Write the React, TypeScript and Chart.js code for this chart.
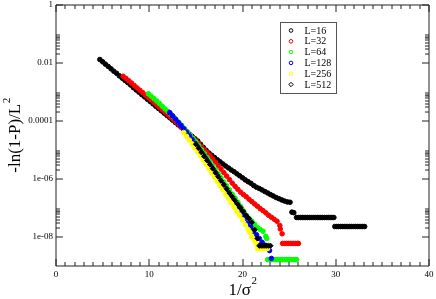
import React, { useEffect, useRef } from 'react';
import { Chart, registerables } from 'chart.js';

Chart.register(...registerables);

// ---- data (x = 1/sigma^2, y = -ln(1-P)/L^2) ----
const seriesLabels = ['L=16', 'L=32', 'L=64', 'L=128', 'L=256', 'L=512'];
const seriesColors = ['#000000', '#ff0000', '#00ff00', '#0000ff', '#ffff00', '#000000'];
const seriesMarkers = ['circle', 'circle', 'circle', 'circle', 'circle', 'rectRot'];

const pointsL16: [number, number][] = [
  [4.7, 1.32e-2], [5.0, 1.1e-2], [5.3, 9.1e-3], [5.6, 7.6e-3], [5.9, 6.3e-3], [6.2, 5.2e-3],
  [6.5, 4.4e-3], [6.8, 3.6e-3], [7.1, 3.0e-3], [7.4, 2.5e-3], [7.7, 2.1e-3], [8.0, 1.74e-3],
  [8.3, 1.41e-3], [8.6, 1.17e-3], [8.9, 9.8e-4], [9.2, 8.1e-4], [9.5, 6.8e-4], [9.8, 5.6e-4],
  [10.1, 4.7e-4], [10.4, 3.9e-4], [10.7, 3.2e-4], [11.0, 2.7e-4], [11.3, 2.24e-4], [11.6, 1.86e-4],
  [11.9, 1.55e-4], [12.2, 1.29e-4], [12.5, 1.07e-4], [12.8, 8.9e-5], [13.1, 7.4e-5], [13.4, 6.2e-5],
  [13.7, 5.1e-5], [14.0, 4.3e-5], [14.3, 3.5e-5], [14.6, 2.95e-5], [14.9, 2.45e-5], [15.2, 2.04e-5],
  [15.5, 1.58e-5], [15.8, 1.23e-5], [16.1, 9.8e-6], [16.4, 7.9e-6], [16.7, 6.6e-6], [17.0, 5.5e-6],
  [17.3, 4.6e-6], [17.6, 3.9e-6], [17.9, 3.3e-6], [18.2, 2.8e-6], [18.5, 2.4e-6], [18.8, 2.04e-6],
  [19.1, 1.78e-6], [19.4, 1.51e-6], [19.7, 1.29e-6], [20.0, 1.1e-6], [20.3, 9.3e-7], [20.6, 8.1e-7],
  [20.9, 7.1e-7], [21.2, 6.0e-7], [21.5, 5.2e-7], [21.8, 4.7e-7], [22.1, 4.2e-7], [22.4, 3.7e-7],
  [22.7, 3.3e-7], [23.0, 2.9e-7], [23.3, 2.6e-7], [23.6, 2.3e-7], [23.9, 2.1e-7], [24.2, 1.9e-7],
  [24.5, 1.74e-7], [24.8, 1.62e-7], [25.1, 1.58e-7], [25.3, 7.2e-8], [25.5, 6.9e-8],
  [25.8, 4.7e-8], [26.0, 4.7e-8], [26.2, 4.7e-8], [26.4, 4.7e-8], [26.6, 4.7e-8], [26.8, 4.7e-8],
  [27.0, 4.7e-8], [27.2, 4.7e-8], [27.4, 4.7e-8], [27.6, 4.7e-8], [27.8, 4.7e-8], [28.0, 4.7e-8],
  [28.2, 4.7e-8], [28.4, 4.7e-8], [28.6, 4.7e-8], [28.8, 4.7e-8], [29.0, 4.7e-8], [29.2, 4.7e-8],
  [29.4, 4.7e-8], [29.6, 4.7e-8], [29.8, 4.7e-8],
  [29.9, 2.3e-8], [30.1, 2.3e-8], [30.3, 2.3e-8], [30.5, 2.3e-8], [30.7, 2.3e-8], [30.9, 2.3e-8],
  [31.1, 2.3e-8], [31.3, 2.3e-8], [31.5, 2.3e-8], [31.7, 2.3e-8], [31.9, 2.3e-8], [32.1, 2.3e-8],
  [32.3, 2.3e-8], [32.5, 2.3e-8], [32.7, 2.3e-8], [32.9, 2.3e-8], [33.1, 2.3e-8],
];

const pointsL32: [number, number][] = [
  [7.2, 3.5e-3], [7.5, 2.95e-3], [7.8, 2.45e-3], [8.1, 2.04e-3], [8.4, 1.66e-3], [8.7, 1.38e-3],
  [9.0, 1.15e-3], [9.3, 9.5e-4], [9.6, 7.8e-4], [9.9, 6.5e-4], [10.2, 5.4e-4], [10.5, 4.4e-4],
  [10.8, 3.6e-4], [11.1, 2.95e-4], [11.4, 2.45e-4], [11.7, 2.0e-4], [12.0, 1.66e-4], [12.3, 1.35e-4],
  [12.6, 1.1e-4], [12.9, 9.1e-5], [13.2, 7.4e-5], [13.5, 6.0e-5], [13.8, 4.9e-5], [14.1, 4.0e-5],
  [14.4, 3.2e-5], [14.7, 2.6e-5], [15.0, 2.1e-5], [15.3, 1.66e-5], [15.6, 1.29e-5], [15.9, 1.02e-5],
  [16.2, 8.1e-6], [16.5, 6.5e-6], [16.8, 4.9e-6], [17.1, 3.8e-6], [17.4, 2.9e-6], [17.7, 2.2e-6],
  [18.0, 1.66e-6], [18.3, 1.26e-6], [18.6, 9.5e-7], [18.9, 7.2e-7], [19.2, 5.6e-7], [19.5, 4.4e-7],
  [19.8, 3.5e-7], [20.1, 2.9e-7], [20.4, 2.45e-7], [20.7, 2.0e-7], [21.0, 1.66e-7], [21.3, 1.38e-7],
  [21.6, 1.15e-7], [21.9, 9.5e-8], [22.2, 8.1e-8], [22.5, 6.8e-8], [22.8, 5.6e-8], [23.1, 4.8e-8],
  [23.4, 4.1e-8], [23.7, 3.5e-8], [24.0, 2.5e-8], [24.05, 1.9e-8], [24.25, 1.29e-8],
  [24.3, 6.0e-9], [24.5, 6.0e-9], [24.7, 6.0e-9], [24.9, 6.0e-9], [25.1, 6.0e-9], [25.3, 6.0e-9],
  [25.5, 6.0e-9], [25.7, 6.0e-9], [25.9, 6.0e-9], [26.0, 6.0e-9],
];

const pointsL64: [number, number][] = [
  [9.9, 8.7e-4], [10.2, 7.2e-4], [10.5, 5.9e-4], [10.8, 4.9e-4], [11.1, 4.0e-4], [11.4, 3.2e-4],
  [11.7, 2.6e-4], [12.0, 2.14e-4], [12.3, 1.74e-4], [12.6, 1.38e-4], [12.9, 1.1e-4], [13.2, 8.7e-5],
  [13.5, 6.9e-5], [13.8, 5.4e-5], [14.1, 4.2e-5], [14.4, 3.2e-5], [14.7, 2.5e-5], [15.0, 1.9e-5],
  [15.3, 1.41e-5], [15.6, 1.02e-5], [15.9, 7.6e-6], [16.2, 5.5e-6], [16.5, 4.0e-6], [16.8, 2.9e-6],
  [17.1, 2.1e-6], [17.4, 1.51e-6], [17.7, 1.1e-6], [18.0, 7.9e-7], [18.3, 5.8e-7], [18.6, 4.2e-7],
  [18.9, 3.0e-7], [19.2, 2.2e-7], [19.5, 1.58e-7], [19.8, 1.12e-7], [20.1, 7.9e-8], [20.4, 5.6e-8],
  [20.7, 4.4e-8], [21.0, 3.5e-8], [21.3, 2.75e-8], [21.6, 2.1e-8], [21.9, 1.82e-8], [22.2, 1.58e-8],
  [22.5, 1.05e-8], [22.6, 8.9e-9],
  [22.7, 1.66e-9], [22.9, 1.66e-9], [23.1, 1.66e-9], [23.3, 1.66e-9], [23.5, 1.66e-9], [23.7, 1.66e-9],
  [23.9, 1.66e-9], [24.1, 1.66e-9], [24.3, 1.66e-9], [24.5, 1.66e-9], [24.7, 1.66e-9], [24.9, 1.66e-9],
  [25.1, 1.66e-9], [25.3, 1.66e-9], [25.5, 1.66e-9], [25.7, 1.66e-9], [25.8, 1.66e-9],
];

const pointsL128: [number, number][] = [
  [12.2, 1.95e-4], [12.5, 1.51e-4], [12.8, 1.17e-4], [13.1, 9.1e-5], [13.4, 7.1e-5], [13.7, 5.4e-5],
  [14.0, 4.1e-5], [14.3, 3.1e-5], [14.6, 2.3e-5], [14.9, 1.7e-5], [15.2, 1.26e-5], [15.5, 9.1e-6],
  [15.8, 6.6e-6], [16.1, 4.8e-6], [16.4, 3.5e-6], [16.7, 2.5e-6], [17.0, 1.78e-6], [17.3, 1.29e-6],
  [17.6, 9.1e-7], [17.9, 6.6e-7], [18.2, 4.7e-7], [18.5, 3.4e-7], [18.8, 2.4e-7], [19.1, 1.74e-7],
  [19.4, 1.23e-7], [19.7, 8.7e-8], [20.0, 6.0e-8], [20.3, 4.4e-8], [20.6, 3.0e-8], [20.9, 2.2e-8],
  [21.2, 1.58e-8], [21.5, 1.2e-8], [21.8, 8.9e-9], [22.1, 6.6e-9], [22.4, 5.2e-9], [22.7, 4.0e-9],
  [22.9, 3.4e-9], [23.1, 1.82e-9],
];

const pointsL256: [number, number][] = [
  [13.7, 4.0e-5], [14.0, 2.95e-5], [14.3, 2.2e-5], [14.6, 1.62e-5], [14.9, 1.17e-5], [15.2, 8.5e-6],
  [15.5, 6.2e-6], [15.8, 4.4e-6], [16.1, 3.2e-6], [16.4, 2.24e-6], [16.7, 1.62e-6], [17.0, 1.15e-6],
  [17.3, 8.3e-7], [17.6, 5.9e-7], [17.9, 4.3e-7], [18.2, 3.0e-7], [18.5, 2.1e-7], [18.8, 1.51e-7],
  [19.1, 1.07e-7], [19.4, 7.6e-8], [19.7, 5.5e-8], [20.0, 3.9e-8], [20.3, 2.6e-8], [20.6, 1.82e-8],
  [20.8, 1.45e-8], [21.0, 1.0e-8], [21.3, 7.6e-9], [21.5, 6.0e-9],
  [21.6, 4.0e-9], [21.8, 4.0e-9], [22.0, 4.0e-9], [22.2, 4.0e-9], [22.4, 4.0e-9], [22.6, 4.0e-9],
  [22.7, 4.0e-9],
];

const pointsL512: [number, number][] = [
  [15.0, 1.58e-5], [15.3, 1.15e-5], [15.6, 8.3e-6], [15.9, 6.0e-6], [16.2, 4.4e-6], [16.5, 3.2e-6],
  [16.8, 2.3e-6], [17.1, 1.66e-6], [17.4, 1.2e-6], [17.7, 8.7e-7], [18.0, 6.3e-7], [18.3, 4.6e-7],
  [18.6, 3.3e-7], [18.9, 2.45e-7], [19.2, 1.82e-7], [19.5, 1.35e-7], [19.8, 1.02e-7], [20.1, 7.6e-8],
  [20.4, 5.6e-8], [20.7, 4.3e-8], [21.0, 3.2e-8], [21.3, 1.78e-8], [21.6, 8.9e-9],
  [21.8, 5.0e-9], [22.0, 5.0e-9], [22.2, 5.0e-9], [22.4, 5.0e-9], [22.6, 5.0e-9], [22.8, 5.0e-9],
  [23.0, 5.0e-9],
];

const seriesPoints = [pointsL16, pointsL32, pointsL64, pointsL128, pointsL256, pointsL512];

// ---- axes ----
const xMin = 0;
const xMax = 40;
const xMajorStep = 10;
const xMinorStep = 1;
const yMin = 1e-9;
const yMax = 1;
const yTickValues = [1e-8, 1e-6, 1e-4, 1e-2, 1];
const yTickLabels = ['1e-08', '1e-06', '0.0001', '0.01', '1'];
const yMinorMultipliers = [2, 3, 4, 5, 6, 7, 8, 9];

const SERIF = '"Liberation Serif", "Times New Roman", serif';

const decorPlugin = {
  id: 'decor',
  afterDatasetsDraw(chart: any) {
    const { ctx, chartArea: a, scales } = chart;
    const xs = scales.x;
    const ys = scales.y;
    ctx.save();

    // frame + inward ticks
    ctx.strokeStyle = '#222';
    ctx.lineWidth = 1;
    ctx.beginPath();
    ctx.rect(a.left, a.top, a.right - a.left, a.bottom - a.top);
    const majLen = 7;
    const minLen = 4;
    for (let v = xMin; v <= xMax + 1e-9; v += xMinorStep) {
      const px = Math.round(xs.getPixelForValue(v));
      const isMaj = Math.abs(v / xMajorStep - Math.round(v / xMajorStep)) < 1e-6;
      const len = isMaj ? majLen : minLen;
      ctx.moveTo(px, a.bottom);
      ctx.lineTo(px, a.bottom - len);
      ctx.moveTo(px, a.top);
      ctx.lineTo(px, a.top + len);
    }
    yTickValues.forEach((v) => {
      const py = Math.round(ys.getPixelForValue(v));
      ctx.moveTo(a.left, py);
      ctx.lineTo(a.left + majLen, py);
      ctx.moveTo(a.right, py);
      ctx.lineTo(a.right - majLen, py);
      yMinorMultipliers.forEach((k) => {
        const mv = v * k;
        if (mv > yMax || mv < yMin) return;
        const my = Math.round(ys.getPixelForValue(mv));
        ctx.moveTo(a.left, my);
        ctx.lineTo(a.left + minLen, my);
        ctx.moveTo(a.right, my);
        ctx.lineTo(a.right - minLen, my);
      });
    });
    ctx.stroke();

    // axis titles
    ctx.fillStyle = '#000';
    ctx.textBaseline = 'alphabetic';
    ctx.textAlign = 'left';
    const mainFont = '17px ' + SERIF;
    const supFont = '11px ' + SERIF;
    // x title
    ctx.font = mainFont;
    const xMain = '1/\u03c3';
    const wxm = ctx.measureText(xMain).width;
    ctx.font = supFont;
    const wxs = ctx.measureText('2').width;
    const xc = (a.left + a.right) / 2;
    const x0 = xc - (wxm + wxs) / 2;
    ctx.font = mainFont;
    ctx.fillText(xMain, x0, 295);
    ctx.font = supFont;
    ctx.fillText('2', x0 + wxm + 0.5, 284);
    // y title
    ctx.save();
    const yc = (a.top + a.bottom) / 2;
    ctx.translate(20, yc);
    ctx.rotate(-Math.PI / 2);
    ctx.font = mainFont;
    const yMain = '-ln(1-P)/L';
    const wym = ctx.measureText(yMain).width;
    ctx.font = supFont;
    const wys = ctx.measureText('2').width;
    const y0 = -(wym + wys) / 2;
    ctx.font = mainFont;
    ctx.fillText(yMain, y0, 0);
    ctx.font = supFont;
    ctx.fillText('2', y0 + wym + 0.5, -10);
    ctx.restore();

    // legend
    const lx = 280;
    const ly = 22;
    const lw = 56;
    const lh = 71;
    ctx.fillStyle = '#fff';
    ctx.fillRect(lx, ly, lw, lh);
    ctx.strokeStyle = '#555';
    ctx.lineWidth = 1;
    ctx.strokeRect(lx + 0.5, ly + 0.5, lw, lh);
    ctx.font = '10px ' + SERIF;
    ctx.textBaseline = 'middle';
    chart.data.datasets.forEach((ds: any, i: number) => {
      const ry = ly + 8.5 + i * 10.8;
      const mx = lx + 11;
      ctx.strokeStyle = ds.borderColor;
      ctx.lineWidth = 1;
      ctx.beginPath();
      if (ds.pointStyle === 'rectRot') {
        ctx.moveTo(mx, ry - 2.2);
        ctx.lineTo(mx + 2.2, ry);
        ctx.lineTo(mx, ry + 2.2);
        ctx.lineTo(mx - 2.2, ry);
        ctx.closePath();
      } else {
        ctx.arc(mx, ry, 1.8, 0, Math.PI * 2);
      }
      ctx.stroke();
      ctx.fillStyle = '#000';
      ctx.fillText(ds.label, lx + 24.5, ry + 0.5);
    });

    ctx.restore();
  },
};

export default function App() {
  const ref = useRef<HTMLCanvasElement>(null);
  useEffect(() => {
    if (!ref.current) return;
    const datasets = seriesPoints.map((pts, i) => ({
      label: seriesLabels[i],
      data: pts.map(([x, y]) => ({ x, y })),
      borderColor: seriesColors[i],
      backgroundColor: seriesColors[i],
      pointStyle: seriesMarkers[i],
      pointRadius: seriesMarkers[i] === 'rectRot' ? 2.6 : 2.3,
      pointBorderWidth: 1,
      showLine: false,
      order: seriesPoints.length - 1 - i,
    }));
    const chart = new Chart(ref.current, {
      type: 'scatter',
      data: { datasets },
      options: {
        animation: false,
        responsive: false,
        devicePixelRatio: 1,
        layout: { padding: { left: 0, right: 7, top: 4, bottom: 0 } },
        plugins: { legend: { display: false }, tooltip: { enabled: false } },
        events: [],
        scales: {
          x: {
            type: 'linear',
            min: xMin,
            max: xMax,
            grid: { display: false, drawTicks: false },
            border: { display: false },
            ticks: {
              stepSize: xMajorStep,
              padding: 3,
              maxRotation: 0,
              autoSkip: false,
              color: '#000',
              font: { family: SERIF, size: 9 },
            },
            afterFit: (s: any) => {
              s.height = 33;
              s.paddingLeft = 0;
              s.paddingRight = 0;
            },
          },
          y: {
            type: 'logarithmic',
            min: yMin,
            max: yMax,
            grid: { display: false, drawTicks: false },
            border: { display: false },
            afterBuildTicks: (s: any) => {
              s.ticks = yTickValues.map((v) => ({ value: v }));
            },
            ticks: {
              padding: 3,
              autoSkip: false,
              color: '#000',
              font: { family: SERIF, size: 9 },
              callback: (v: any) => {
                const idx = yTickValues.findIndex((t) => Math.abs(t - v) / t < 1e-6);
                return idx >= 0 ? yTickLabels[idx] : '';
              },
            },
            afterFit: (s: any) => {
              s.width = 56;
              s.paddingTop = 0;
              s.paddingBottom = 0;
            },
          },
        },
      } as any,
      plugins: [decorPlugin],
    });
    return () => chart.destroy();
  }, []);
  return (
    <div style={{ position: 'fixed', left: 0, top: 0, width: 436, height: 299, background: '#fff' }}>
      <canvas ref={ref} width={436} height={299} style={{ display: 'block', width: 436, height: 299 }} />
    </div>
  );
}
